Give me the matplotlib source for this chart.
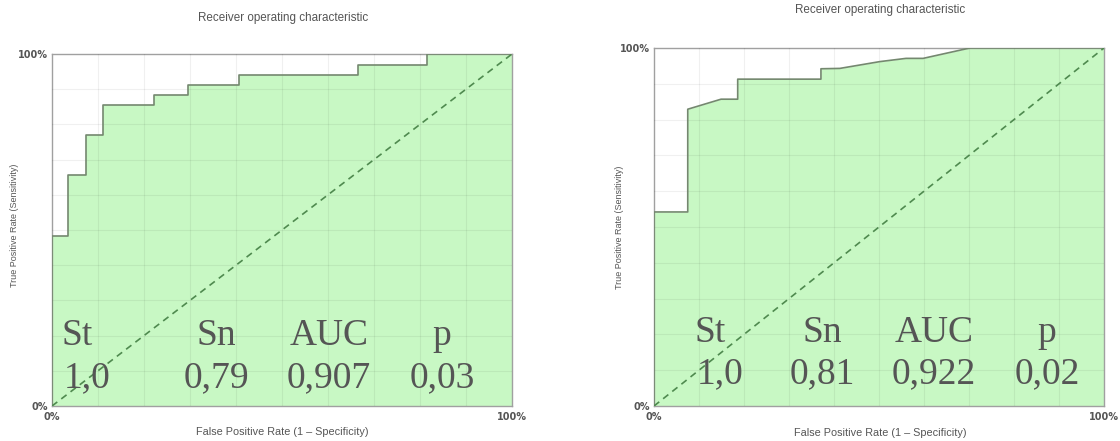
import matplotlib.pyplot as plt
import numpy as np

# ROC curve points (FPR, TPR)
fpr_a = [0.0, 0.0, 0.035, 0.035, 0.073, 0.073, 0.110, 0.110, 0.222, 0.222,
         0.296, 0.296, 0.407, 0.407, 0.666, 0.666, 0.815, 0.815, 1.0]
tpr_a = [0.0, 0.484, 0.484, 0.655, 0.655, 0.770, 0.770, 0.855, 0.855, 0.884,
         0.884, 0.912, 0.912, 0.941, 0.941, 0.969, 0.969, 1.0, 1.0]

fpr_b = [0.0, 0.0, 0.075, 0.075, 0.149, 0.186, 0.186, 0.371, 0.371, 0.413,
         0.502, 0.560, 0.598, 0.702, 1.0]
tpr_b = [0.0, 0.542, 0.542, 0.829, 0.857, 0.857, 0.913, 0.913, 0.942, 0.943,
         0.962, 0.971, 0.971, 1.0, 1.0]

encabezados = ["St", "Sn", "AUC", "p"]
valores_a = ["1,0", "0,79", "0,907", "0,03"]
valores_b = ["1,0", "0,81", "0,922", "0,02"]

titulo = "Receiver operating characteristic"
xlab = "False Positive Rate (1 \u2013 Specificity)"
ylab = "True Positive Rate (Sensitivity)"

verde = "#c8f8c4"
gris_txt = "#555555"

fig = plt.figure(figsize=(11.2, 4.41), dpi=100)
ax1 = fig.add_axes([52/1120, 35/441, 460/1120, 352/441])
ax2 = fig.add_axes([654/1120, 35/441, 450/1120, 358/441])


def dibujar(ax, fpr, tpr, valores, col_x, fila_y):
    ax.fill_between(fpr, tpr, 0, color=verde, lw=0, zorder=1)
    ax.plot(fpr, tpr, color="#74886f", lw=1.2, zorder=3)
    ax.plot([0, 1], [0, 1], color="#4f8a4f", lw=1.2, ls=(0, (4, 3)), zorder=3)
    ax.set_xlim(0, 1); ax.set_ylim(0, 1)
    ax.set_xticks(np.linspace(0, 1, 11), minor=True)
    ax.set_yticks(np.linspace(0, 1, 11), minor=True)
    ax.grid(True, which="minor", color="black", alpha=0.06, lw=0.8, zorder=2)
    ax.set_axisbelow(False)
    ax.set_xticks([0, 1]); ax.set_yticks([0, 1])
    ax.set_xticklabels(["0%", "100%"]); ax.set_yticklabels(["0%", "100%"])
    ax.tick_params(which="both", length=0, labelsize=7, labelcolor=gris_txt)
    ax.tick_params(axis="x", pad=4)
    ax.tick_params(axis="y", pad=3)
    for lbl in ax.get_xticklabels() + ax.get_yticklabels():
        lbl.set_fontweight("semibold")
    for s in ax.spines.values():
        s.set_color("#a0a0a0"); s.set_linewidth(1.0)
    for i, (h, v) in enumerate(zip(encabezados, valores)):
        ha = "left" if i == 0 else "center"
        ax.text(col_x[i], fila_y[0], h, ha=ha, va="baseline", fontsize=27,
                family="Liberation Serif", color=gris_txt, zorder=4)
        ax.text(col_x[i] + (0.004 if i == 0 else 0), fila_y[1], v, ha=ha, va="baseline",
                fontsize=27, family="Liberation Serif", color=gris_txt, zorder=4)


dibujar(ax1, fpr_a, tpr_a, valores_a, [0.021, 0.357, 0.602, 0.848], [0.173, 0.054])
dibujar(ax2, fpr_b, tpr_b, valores_b, [0.090, 0.373, 0.622, 0.873], [0.180, 0.063])

fuente = dict(family="Liberation Sans", color=gris_txt)
fig.text(283/1120, 1 - 18/441, titulo, ha="center", va="center", fontsize=8.4, **fuente)
fig.text(880/1120, 1 - 10/441, titulo, ha="center", va="center", fontsize=8.4, **fuente)
fig.text(282/1120, 1 - 432/441, xlab, ha="center", va="center", fontsize=7.8, **fuente)
fig.text(880/1120, 1 - 433/441, xlab, ha="center", va="center", fontsize=7.8, **fuente)
fig.text(15/1120, 1 - 225/441, ylab, ha="center", va="center", rotation=90, fontsize=6.5, **fuente)
fig.text(619/1120, 1 - 227/441, ylab, ha="center", va="center", rotation=90, fontsize=6.5, **fuente)

plt.savefig("out.png", dpi=100)
